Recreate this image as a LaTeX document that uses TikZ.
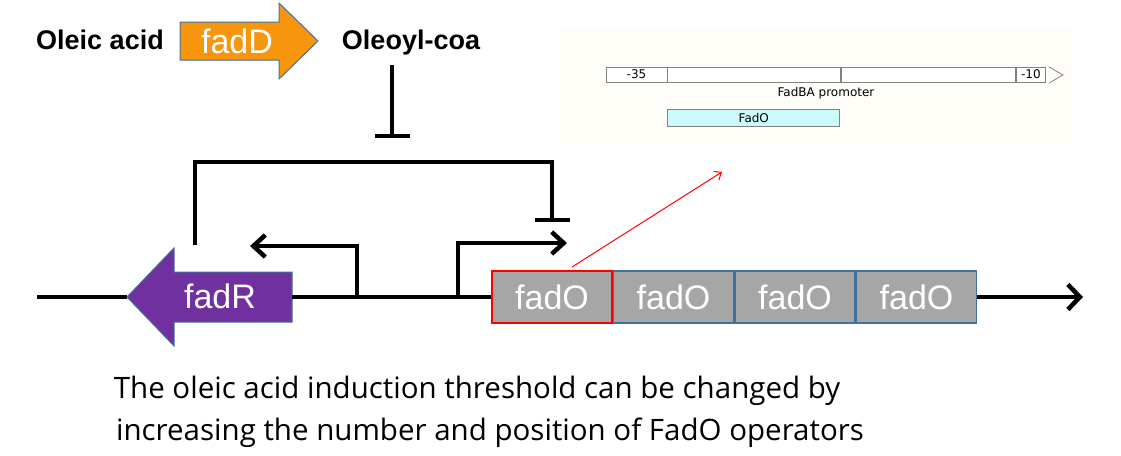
\documentclass[tikz,border=0pt]{standalone}
\usepackage{fontspec}
\setmainfont{Liberation Sans}
\newfontfamily\captionfont{Open Sans}
\newfontfamily\snapfont{DejaVu Sans}
\usetikzlibrary{positioning,arrows.meta}
\definecolor{fadorange}{RGB}{247,150,12}
\definecolor{fadpurple}{RGB}{112,48,160}
\definecolor{opgray}{RGB}{166,166,166}
\definecolor{edgeblue}{RGB}{65,113,156}
\definecolor{insetbg}{RGB}{254,253,248}
\definecolor{seggray}{RGB}{130,130,130}
\definecolor{fadocyan}{RGB}{204,250,250}

\begin{document}
\begin{tikzpicture}[
    x=1pt, y=-1pt,
    metab/.style={font=\fontsize{27}{30}\selectfont\bfseries, inner sep=0pt, anchor=base},
    genetxt/.style={font=\fontsize{34}{36}\selectfont, text=white, inner sep=0pt, anchor=base},
    wire/.style={line width=4.5pt, line join=miter},
    prom/.style={wire, -{Straight Barb[length=12pt,width=22pt]}},
    repress/.style={wire, -{Bar[width=35pt]}},
    opbox/.style={draw=#1, line width=1.5pt, fill=opgray, minimum width=120pt, minimum height=52pt, inner sep=0pt, font=\fontsize{34}{36}\selectfont, text=white},
    seg/.style={draw=seggray, line width=0.8pt, fill=white, minimum height=15pt, inner sep=0pt, font=\snapfont\fontsize{12}{14}\selectfont},
    snaptxt/.style={font=\snapfont\fontsize{12}{14}\selectfont, inner sep=0pt},
    captxt/.style={font=\captionfont\fontsize{29.5}{32}\selectfont, inner sep=0pt, anchor=base},
]
\useasboundingbox (0,0) rectangle (1121,455);

% Oleic acid -> Oleoyl-coa
\node[metab] (oleic) at (100,49) {Oleic acid};
\draw[fill=fadorange, draw=edgeblue, line width=1pt]
    (180,22) -- (279,22) -- (279,3) -- (318,41) -- (279,79) -- (279,60) -- (180,60) -- cycle;
\node[genetxt] (fadD) at (237,53) {fadD};
\node[metab] (oleoyl) at (411,49) {Oleoyl-coa};

% Oleoyl-coa represses FadR
\coordinate (inh top) at (392,65);
\coordinate (inh end) at (392,138);
\draw[repress] (inh top) -- (inh end);

% FadR represses the fadBA promoter
\coordinate (loop start) at (195,245);
\coordinate (loop turn) at (552,162);
\coordinate (loop end) at (552,222);
\draw[repress] (loop start) |- (loop turn) -- (loop end);

% DNA
\coordinate (dna start) at (37,297);
\coordinate (fadR tip) at (127,297);
\coordinate (fadR end) at (292,297);
\coordinate (dna end) at (1083,297);
\draw[wire] (dna start) -- (fadR tip);
\draw[fill=fadpurple, draw=edgeblue, line width=1pt]
    (fadR tip) -- (174,248) -- (174,272) -- (292,272) -- (292,322) -- (174,322) -- (174,346) -- cycle;
\node[genetxt] (fadR) at (220,308) {fadR};

% fadO operators
\node[opbox=red] (o1) at (552,297) {fadO};
\node[opbox=edgeblue, right=0pt of o1] (o2) {fadO};
\node[opbox=edgeblue, right=0pt of o2] (o3) {fadO};
\node[opbox=edgeblue, right=0pt of o3] (o4) {fadO};
\draw[wire] (fadR end) -- (o1.west);
\draw[wire, -{Straight Barb[length=12pt,width=25pt]}] (o4.east) -- (dna end);

% Promoters
\coordinate (pR foot) at (357,297);
\coordinate (pR tip) at (250,246);
\coordinate (pBA foot) at (458,297);
\coordinate (pBA tip) at (567,243);
\draw[prom] (pR foot) |- (pR tip);
\draw[prom] (pBA foot) |- (pBA tip);

% Zoom on the fadBA promoter
\fill[insetbg] (560,28) rectangle (1072,143);
\node[seg, minimum width=61pt] (s35) at (636.5,74.5) {-35};
\node[seg, minimum width=173pt, right=0pt of s35] (sA) {};
\node[seg, minimum width=174pt, right=0pt of sA] (sB) {};
\node[seg, minimum width=29pt, right=0pt of sB] (s10) {-10};
\draw[seggray, line width=0.8pt] (1049,67) -- (1063,75) -- (1049,83);
\node[snaptxt] (promlabel) at (826,93) {FadBA promoter};
\node[seg, fill=fadocyan, minimum height=17pt, minimum width=172pt, below=27pt of sA.south west, anchor=north west] (fadOsite) {FadO};
\coordinate (zoom from) at (572,267);
\coordinate (zoom to) at (722,172);
\draw[red, line width=1pt, -{Straight Barb[length=6pt,width=10pt]}] (zoom from) -- (zoom to);

% Caption
\node[captxt] (cap1) at (477,398) {The oleic acid induction threshold can be changed by};
\node[captxt] (cap2) at (490,440) {increasing the number and position of FadO operators};
\end{tikzpicture}
\end{document}
